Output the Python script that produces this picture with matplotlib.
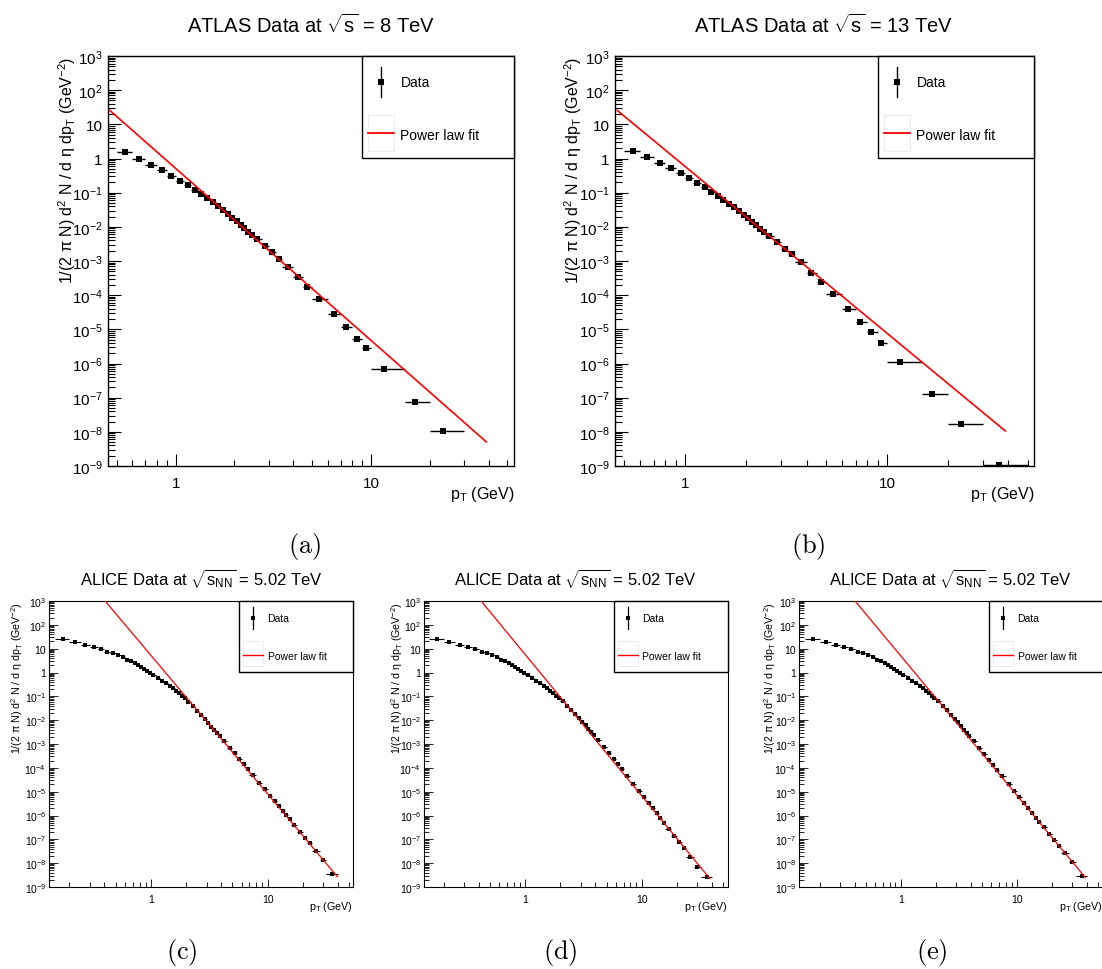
import numpy as np
import matplotlib
matplotlib.use("Agg")
import matplotlib.pyplot as plt
from matplotlib.ticker import FixedLocator, NullFormatter, FuncFormatter
from matplotlib.patches import Rectangle
from matplotlib.lines import Line2D

plt.rcParams['font.family'] = ['Liberation Sans', 'DejaVu Sans']
plt.rcParams['mathtext.fontset'] = 'custom'
plt.rcParams['mathtext.rm'] = 'Liberation Sans'
plt.rcParams['mathtext.it'] = 'Liberation Sans:italic'
plt.rcParams['mathtext.bf'] = 'Liberation Sans:bold'
plt.rcParams['mathtext.sf'] = 'Liberation Sans'

# ---------------- data ----------------
ATLAS_EDGES_8 = [0.5, 0.6, 0.7, 0.8, 0.9, 1.0, 1.1, 1.2, 1.3, 1.4, 1.5, 1.6, 1.7, 1.8, 1.9,
                 2.0, 2.1, 2.2, 2.3, 2.4, 2.5, 2.75, 3.0, 3.25, 3.5, 4.0, 4.5, 5.0, 6.0,
                 7.0, 8.0, 9.0, 10.0, 15.0, 20.0, 30.0]
ATLAS_PT_8 = [0.55, 0.65, 0.75, 0.85, 0.95, 1.05, 1.15, 1.25, 1.35, 1.45, 1.55, 1.65, 1.75,
              1.85, 1.95, 2.05, 2.15, 2.25, 2.35, 2.45, 2.61, 2.87, 3.12, 3.37, 3.74, 4.22,
              4.72, 5.43, 6.43, 7.44, 8.45, 9.45, 11.6, 16.9, 23.4]
ATLAS_Y_8 = [1.53, 1.00, 0.667, 0.455, 0.318, 0.226, 0.165, 0.123, 0.092, 0.070,
             0.0537, 0.041, 0.031, 0.0239, 0.0186, 0.0146, 0.0114, 0.0091, 0.0072, 0.0058,
             0.0045, 0.0028, 0.0018, 0.00117, 0.00068, 0.00033, 0.000173, 7.5e-5, 2.73e-5,
             1.14e-5, 5.3e-6, 2.8e-6, 6.8e-7, 7.7e-8, 1.06e-8]

ATLAS_EDGES_13 = [0.5, 0.6, 0.7, 0.8, 0.9, 1.0, 1.1, 1.2, 1.3, 1.4, 1.5, 1.6, 1.7, 1.8, 1.9,
                  2.0, 2.1, 2.2, 2.3, 2.4, 2.5, 2.75, 3.0, 3.25, 3.5, 4.0, 4.5, 5.0, 6.0,
                  7.0, 8.0, 9.0, 10.0, 15.0, 20.0, 30.0, 50.0]
ATLAS_PT_13 = [0.55, 0.65, 0.75, 0.85, 0.95, 1.05, 1.15, 1.25, 1.35, 1.45, 1.55, 1.65, 1.75,
               1.85, 1.95, 2.05, 2.15, 2.25, 2.35, 2.45, 2.61, 2.87, 3.12, 3.37, 3.74, 4.22,
               4.72, 5.41, 6.38, 7.37, 8.38, 9.37, 11.6, 16.8, 23.4, 35.9]
ATLAS_Y_13 = [1.68, 1.12, 0.746, 0.52, 0.372, 0.265, 0.198, 0.144, 0.108, 0.080,
              0.061, 0.048, 0.037, 0.029, 0.0225, 0.0177, 0.0140, 0.0111, 0.0088, 0.0071,
              0.0054, 0.0035, 0.0023, 0.00155, 9.3e-4, 4.55e-4, 2.48e-4, 1.08e-4, 3.9e-5,
              1.66e-5, 8.1e-6, 4.0e-6, 1.07e-6, 1.26e-7, 1.74e-8, 1.07e-9]

ALICE_EDGES = [0.15, 0.2, 0.25, 0.3, 0.35, 0.4, 0.45, 0.5, 0.55, 0.6, 0.65, 0.7, 0.75, 0.8,
               0.85, 0.9, 0.95, 1.0, 1.1, 1.2, 1.3, 1.4, 1.5, 1.6, 1.7, 1.8, 1.9, 2.0, 2.2,
               2.4, 2.6, 2.8, 3.0, 3.2, 3.4, 3.6, 3.8, 4.0, 4.5, 5.0, 5.5, 6.0, 6.5, 7.0,
               8.0, 9.0, 10.0, 11.0, 12.0, 13.0, 14.0, 15.0, 16.0, 18.0, 20.0, 22.0, 24.0,
               28.0, 32.0, 40.0]
ALICE_PT = [0.175, 0.225, 0.275, 0.325, 0.375, 0.425, 0.475, 0.525, 0.575, 0.625, 0.675,
            0.725, 0.775, 0.825, 0.875, 0.925, 0.975, 1.05, 1.15, 1.25, 1.35, 1.45, 1.55,
            1.65, 1.75, 1.85, 1.95, 2.1, 2.3, 2.5, 2.7, 2.9, 3.1, 3.3, 3.5, 3.7, 3.9, 4.25,
            4.75, 5.25, 5.75, 6.25, 6.75, 7.5, 8.5, 9.5, 10.5, 11.5, 12.5, 13.5, 14.5, 15.5,
            17.0, 19.0, 21.0, 23.0, 26.0, 30.0, 36.0]
# pT < 2 GeV (common to the three ALICE panels)
ALICE_Y_LOW = [25.0, 19.5, 14.8, 11.6, 9.3, 7.6, 6.3, 5.2, 4.3, 3.5, 2.9, 2.4, 2.0, 1.67,
               1.40, 1.18, 1.00, 0.79, 0.595, 0.455, 0.352, 0.275, 0.215, 0.170, 0.134,
               0.106, 0.085]
# pT > 2 GeV, per panel
ALICE_Y_HIGH_C = [0.060, 0.038, 0.0247, 0.0164, 0.0111, 0.0077, 0.0054, 0.0039, 0.00285,
                  0.00212, 1.31e-3, 7.1e-4, 4.0e-4, 2.36e-4, 1.45e-4, 9.2e-5, 5.0e-5, 2.4e-5,
                  1.25e-5, 6.9e-6, 4.05e-6, 2.5e-6, 1.6e-6, 1.05e-6, 7.1e-7, 4.1e-7, 2.1e-7,
                  1.15e-7, 6.7e-8, 3.2e-8, 1.35e-8, 3.6e-9]
ALICE_Y_HIGH_D = [0.062, 0.040, 0.0265, 0.0178, 0.0122, 0.0085, 0.0061, 0.0044, 0.0032,
                  0.0024, 1.47e-3, 7.6e-4, 4.1e-4, 2.4e-4, 1.45e-4, 9.0e-5, 4.5e-5, 2.2e-5,
                  1.1e-5, 5.8e-6, 3.3e-6, 2.0e-6, 1.22e-6, 7.5e-7, 4.8e-7, 2.75e-7, 1.34e-7,
                  7.7e-8, 4.35e-8, 1.9e-8, 7.0e-9, 2.6e-9]
ALICE_Y_HIGH_E = [0.062, 0.039, 0.0255, 0.0170, 0.0115, 0.0080, 0.0056, 0.0040, 0.0029,
                  0.00215, 1.3e-3, 6.9e-4, 3.8e-4, 2.2e-4, 1.35e-4, 8.5e-5, 4.4e-5, 2.15e-5,
                  1.1e-5, 5.7e-6, 3.3e-6, 2.0e-6, 1.27e-6, 8.2e-7, 5.5e-7, 3.2e-7, 1.65e-7,
                  9.2e-8, 5.4e-8, 2.6e-8, 1.1e-8, 3.0e-9]

# power-law fit lines (end points of the drawn fit curve)
FIT_A_PT = [0.46, 39.0]
FIT_A_Y = [25.5, 5.05e-9]
FIT_B_PT = [0.462, 38.6]
FIT_B_Y = [25.5, 1.06e-8]
FIT_C_PT = [0.406, 39.7]
FIT_C_Y = [1e3, 2.7e-9]
FIT_D_PT = [0.42, 38.5]
FIT_D_Y = [1e3, 2.24e-9]
FIT_E_PT = [0.404, 38.8]
FIT_E_Y = [1e3, 2.5e-9]

Y_DECADES = [1e-9, 1e-8, 1e-7, 1e-6, 1e-5, 1e-4, 1e-3, 1e-2, 1e-1, 1, 10, 100, 1000]
X_MAJOR = [1, 10]
Y_MINOR = [k * 10.0 ** e for e in range(-9, 3) for k in range(2, 10)]
X_MINOR = [k * 10.0 ** e for e in range(-1, 2) for k in range(2, 10)]

TITLE_ATLAS_8 = r'ATLAS Data at $\sqrt{\mathregular{s}}$ = 8 TeV'
TITLE_ATLAS_13 = r'ATLAS Data at $\sqrt{\mathregular{s}}$ = 13 TeV'
TITLE_ALICE = r'ALICE Data at $\sqrt{\mathregular{s}_{\mathregular{NN}}}$ = 5.02 TeV'
YLABEL = (r'1/(2 π N) d$^{\mathregular{2}}$ N / d η dp$_{\mathregular{T}}$ '
          r'(GeV$^{\mathregular{-2}}$)')
XLABEL = r'p$_{\mathregular{T}}$ (GeV)'

# ---------------- figure ----------------
W, H = 1102.0, 970.0
fig = plt.figure(figsize=(W / 100, H / 100), dpi=100)


def P(px, py):
    return (px / W, 1 - py / H)


def yfmt(v, pos):
    e = int(round(np.log10(v)))
    if e == 0:
        return '1'
    if e == 1:
        return '10'
    return r'$\mathregular{10^{%d}}$' % e


def xfmt(v, pos):
    return '%g' % v


def draw_panel(s):
    l, r, t, b = s['box']
    ax = fig.add_axes([l / W, 1 - b / H, (r - l) / W, (b - t) / H])
    ax.set_xscale('log')
    ax.set_yscale('log')
    edges = np.array(s['edges'])
    pt = np.array(s['pt'])
    y = np.array(s['y'])
    xerr = np.vstack([pt - edges[:-1], edges[1:] - pt])
    ax.errorbar(pt, y, xerr=xerr, fmt='s', color='black', ms=s['ms'], mew=0,
                elinewidth=s['elw'], capsize=s['capsz'], capthick=s['elw'], zorder=3)
    ax.plot(s['fit_pt'], s['fit_y'], color='#ff0000', lw=s['flw'], zorder=4)

    ax.yaxis.set_major_locator(FixedLocator(Y_DECADES))
    ax.yaxis.set_minor_locator(FixedLocator(Y_MINOR))
    ax.yaxis.set_major_formatter(FuncFormatter(yfmt))
    ax.yaxis.set_minor_formatter(NullFormatter())
    ax.xaxis.set_major_locator(FixedLocator(X_MAJOR))
    ax.xaxis.set_minor_locator(FixedLocator(X_MINOR))
    ax.xaxis.set_major_formatter(FuncFormatter(xfmt))
    ax.xaxis.set_minor_formatter(NullFormatter())
    ax.set_xlim(*s['xlim'])
    ax.set_ylim(1e-9, 1e3)

    ax.tick_params(axis='both', which='both', direction='in', top=False, right=False,
                   left=True, bottom=True, width=s['tw'], color='black',
                   labelcolor='black')
    ax.tick_params(axis='y', which='major', length=s['ylen'][0], pad=s['ypad'],
                   labelsize=s['tfs'])
    ax.tick_params(axis='y', which='minor', length=s['ylen'][1])
    ax.tick_params(axis='x', which='major', length=s['xlen'][0], pad=s['xpad'],
                   labelsize=s['tfs'])
    ax.tick_params(axis='x', which='minor', length=s['xlen'][1])
    for sp in ax.spines.values():
        sp.set_linewidth(s['slw'])
        sp.set_color('black')

    # axis titles
    ax.text(s['ylab_x'], 1.0, YLABEL, rotation=90, ha='center', va='top',
            transform=ax.transAxes, fontsize=s['lfs'])
    ax.text(1.0, s['xlab_y'], XLABEL, ha='right', va='center',
            transform=ax.transAxes, fontsize=s['lfs'])

    # title and caption
    fig.text(*P(*s['title_xy']), s['title'], ha='center', va='center',
             fontsize=s['title_fs'])
    fig.text(*P(*s['cap_xy']), r'$\mathrm{(%s)}$' % s['capname'], ha='center',
             va='center', fontsize=19, math_fontfamily='cm')

    # legend (ROOT style box)
    L = s['leg']
    x0, x1, y0, y1 = L['l'], L['r'], L['t'], L['b']
    fig.add_artist(Rectangle(P(x0, y1), (x1 - x0) / W, (y1 - y0) / H,
                             transform=fig.transFigure, facecolor='white',
                             edgecolor='black', lw=L['lw'], zorder=10))
    sx = x0 + L['sym_dx']
    fig.add_artist(Line2D([P(sx, 0)[0]] * 2,
                          [P(0, y0 + L['vbar'][0])[1], P(0, y0 + L['vbar'][1])[1]],
                          transform=fig.transFigure, color='black', lw=L['vlw'], zorder=11))
    fig.add_artist(Line2D([P(sx, 0)[0]], [P(0, y0 + L['data_y'])[1]], marker='s',
                          ms=L['ms'], mew=0, color='black', transform=fig.transFigure,
                          zorder=12))
    fig.text(*P(x0 + L['text_dx'], y0 + L['data_y']), 'Data', ha='left', va='center',
             fontsize=L['fs'], zorder=12)
    fx0, fx1 = x0 + L['line_dx'][0], x0 + L['line_dx'][1]
    fig.add_artist(Rectangle(P(fx0, y0 + L['fbox'][1]), (fx1 - fx0) / W,
                             (L['fbox'][1] - L['fbox'][0]) / H, transform=fig.transFigure,
                             facecolor='white', edgecolor='#ececec', lw=0.8, zorder=11))
    fig.add_artist(Line2D([fx0 / W, fx1 / W], [P(0, y0 + L['fit_y'])[1]] * 2,
                          transform=fig.transFigure, color='#ff0000', lw=L['flw'],
                          zorder=12))
    fig.text(*P(x0 + L['text_dx'], y0 + L['fit_ty']), 'Power law fit', ha='left',
             va='center', fontsize=L['fs'], zorder=12)
    return ax


atlas_style = dict(ms=3.8, elw=1.0, capsz=3.2, flw=1.2, tw=0.8, ylen=(9.4, 4.8),
                   xlen=(8.6, 4.3), ypad=4, xpad=7, tfs=11, lfs=11.5, slw=1.0, title_fs=14.5)
alice_style = dict(ms=2.7, elw=0.8, capsz=2.4, flw=0.9, tw=0.6, ylen=(6.5, 3.4),
                   xlen=(6.0, 3.3), ypad=2, xpad=5, tfs=7.5, lfs=7.7, slw=0.8, title_fs=12)

atlas_leg = dict(sym_dx=19, text_dx=38.5, line_dx=(6, 32), data_y=26, vbar=(11, 41),
                 fit_y=77, fit_ty=79, fbox=(59, 95), fs=10, ms=3.8, vlw=1.0, flw=1.3, lw=1.0)
alice_leg = dict(sym_dx=14, text_dx=28.5, line_dx=(4, 24), data_y=17, vbar=(6, 28),
                 fit_y=54, fit_ty=54.5, fbox=(40, 65), fs=7.5, ms=2.8, vlw=0.9, flw=1.0,
                 lw=1.0)

panels = [
    dict(box=(108, 514, 57, 467), xlim=(0.45, 54), edges=ATLAS_EDGES_8, pt=ATLAS_PT_8,
         y=ATLAS_Y_8, fit_pt=FIT_A_PT, fit_y=FIT_A_Y, title=TITLE_ATLAS_8,
         title_xy=(311, 25), cap_xy=(305, 546), capname='a', ylab_x=-0.100, xlab_y=-0.068,
         leg=dict(atlas_leg, l=362, r=514, t=57, b=159), **atlas_style),
    dict(box=(615, 1034, 57, 467), xlim=(0.45, 53.5), edges=ATLAS_EDGES_13, pt=ATLAS_PT_13,
         y=ATLAS_Y_13, fit_pt=FIT_B_PT, fit_y=FIT_B_Y, title=TITLE_ATLAS_13,
         title_xy=(824, 25), cap_xy=(808, 546), capname='b', ylab_x=-0.099, xlab_y=-0.068,
         leg=dict(atlas_leg, l=878, r=1034, t=57, b=159), **atlas_style),
    dict(box=(49, 353, 602, 888), xlim=(0.134, 54), edges=ALICE_EDGES, pt=ALICE_PT,
         y=ALICE_Y_LOW + ALICE_Y_HIGH_C, fit_pt=FIT_C_PT, fit_y=FIT_C_Y, title=TITLE_ALICE,
         title_xy=(201, 579), cap_xy=(182, 953), capname='c', ylab_x=-0.104, xlab_y=-0.066,
         leg=dict(alice_leg, l=239, r=353, t=602, b=673), **alice_style),
    dict(box=(424, 728, 602, 888), xlim=(0.136, 55), edges=ALICE_EDGES, pt=ALICE_PT,
         y=ALICE_Y_LOW + ALICE_Y_HIGH_D, fit_pt=FIT_D_PT, fit_y=FIT_D_Y, title=TITLE_ALICE,
         title_xy=(575, 579), cap_xy=(560, 953), capname='d', ylab_x=-0.090, xlab_y=-0.066,
         leg=dict(alice_leg, l=614, r=728, t=602, b=673), **alice_style),
    dict(box=(799, 1103, 602, 888), xlim=(0.133, 55), edges=ALICE_EDGES, pt=ALICE_PT,
         y=ALICE_Y_LOW + ALICE_Y_HIGH_E, fit_pt=FIT_E_PT, fit_y=FIT_E_Y, title=TITLE_ALICE,
         title_xy=(950, 579), cap_xy=(932, 953), capname='e', ylab_x=-0.095, xlab_y=-0.066,
         leg=dict(alice_leg, l=989, r=1110, t=602, b=673), **alice_style),
]

for spec in panels:
    draw_panel(spec)

fig.savefig('out.png', dpi=100, facecolor='white')
